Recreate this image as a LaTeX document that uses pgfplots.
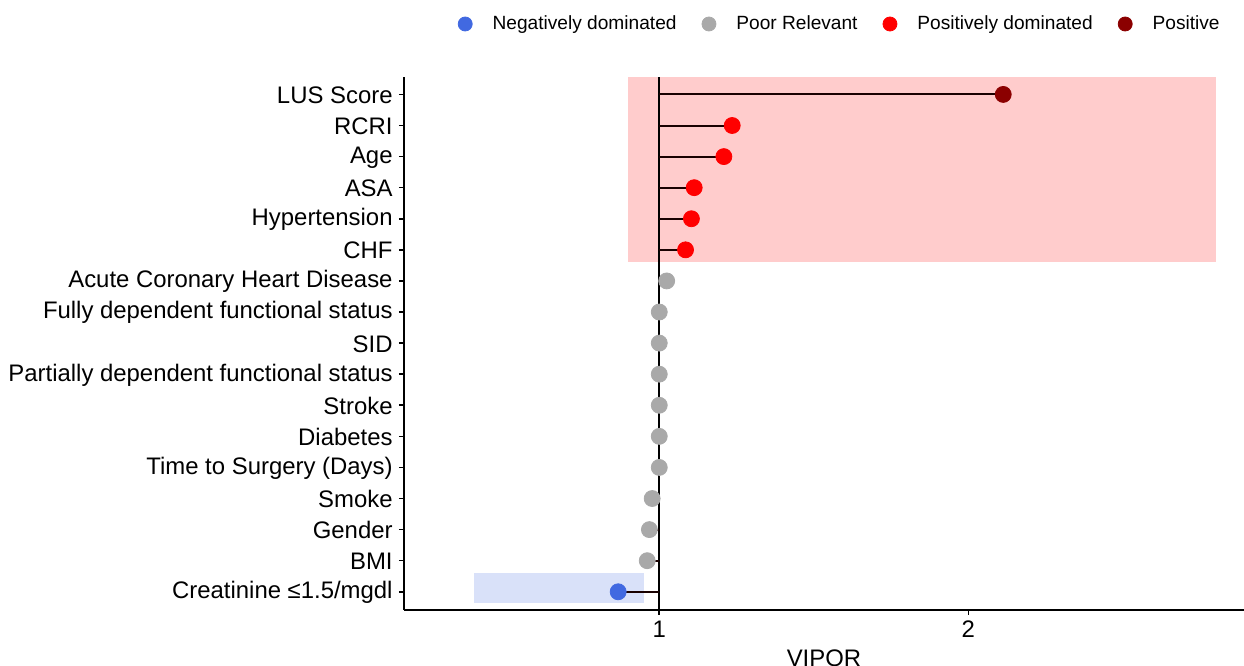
\documentclass[border=0pt]{standalone}
\usepackage{fontspec}
\setmainfont{Liberation Sans}
\usepackage{pgfplots}
\pgfplotsset{compat=1.18}
\definecolor{negc}{HTML}{4169E1}
\definecolor{poorc}{HTML}{A9A9A9}
\definecolor{posdc}{HTML}{FF0000}
\definecolor{posc}{HTML}{8B0000}
\definecolor{redbox}{HTML}{FFCCCC}
\definecolor{bluebox}{HTML}{D9E1F9}
\begin{document}
\begin{tikzpicture}
\useasboundingbox (-202bp,-28.25bp) rectangle (420bp,304.75bp);
\begin{axis}[
  at={(0,0)}, anchor=south west,
  scale only axis, width=420bp, height=266.4bp,
  xmin=0.174, xmax=2.892, ymin=0.43, ymax=17.57,
  axis lines*=left,
  axis line style={line width=1bp, black},
  xtick={1,2}, ytick={1,...,17},
  xtick pos=bottom, ytick pos=left,
  tick align=outside, major tick length=2.5bp,
  tick style={line width=0.8bp, black},
  yticklabels={Creatinine ≤1.5/mgdl, BMI, Gender, Smoke, Time to Surgery (Days), Diabetes, Stroke, Partially dependent functional status, SID, Fully dependent functional status, Acute Coronary Heart Disease, CHF, Hypertension, ASA, Age, RCRI, LUS Score},
  /pgf/number format/assume math mode=true,
  tick label style={font=\fontsize{12}{14}\selectfont, black},
  yticklabel style={inner sep=0pt, anchor=east, xshift=-3bp, yshift=-0.4bp},
  xticklabel style={inner sep=0pt, anchor=north, yshift=-3bp},
  xlabel={VIPOR},
  xlabel style={font=\fontsize{12}{14}\selectfont, inner sep=0pt, anchor=north, at={(axis description cs:0.5,0)}, yshift=-19.8bp},
  legend columns=4,
  legend style={at={(1,1)}, anchor=east, xshift=-12bp, yshift=26.35bp, draw=none, fill=none,
    inner sep=0pt, column sep=0pt, font=\fontsize{9.6}{11}\selectfont,
    nodes={inner sep=0pt},
    /tikz/every even column/.append style={column sep=12.5bp}},
  legend image code/.code={\path (-3.5bp,0) (13.5bp,0); \fill[#1] (0,0) circle (3.5bp);},
  clip=false,
]
% shaded regions
\addplot[fill=redbox, draw=none, forget plot] coordinates {(0.899,11.60) (2.80,11.60) (2.80,17.57) (0.899,17.57)} -- cycle;
\addplot[fill=bluebox, draw=none, forget plot] coordinates {(0.40,0.636) (0.95,0.636) (0.95,1.60) (0.40,1.60)} -- cycle;
% vertical reference line
\addplot[black, line width=1bp, forget plot] coordinates {(1,0.43) (1,17.57)};
% points
\addplot[only marks, mark=*, mark size=4bp, color=negc, fill=negc] coordinates {(0.867,1)};
\addlegendentry{Negatively dominated}
\addplot[only marks, mark=*, mark size=4bp, color=poorc, fill=poorc] coordinates {
(0.961,2) (0.968,3) (0.977,4) (1.0,5) (1.0,6) (1.0,7) (1.0,8) (1.0,9) (1.0,10) (1.024,11)};
\addlegendentry{Poor Relevant}
\addplot[only marks, mark=*, mark size=4bp, color=posdc, fill=posdc] coordinates {
(1.085,12) (1.104,13) (1.113,14) (1.209,15) (1.236,16)};
\addlegendentry{Positively dominated}
\addplot[only marks, mark=*, mark size=4bp, color=posc, fill=posc] coordinates {(2.113,17)};
\addlegendentry{Positive}
% segments
\addplot[black!90!red, line width=1bp, unbounded coords=jump, forget plot] coordinates {
(1,17) (2.113,17) (nan,nan)
(1,16) (1.236,16) (nan,nan)
(1,15) (1.209,15) (nan,nan)
(1,14) (1.113,14) (nan,nan)
(1,13) (1.104,13) (nan,nan)
(1,12) (1.085,12) (nan,nan)
(1,11) (1.024,11) (nan,nan)
(1,4) (0.977,4) (nan,nan)
(1,3) (0.968,3) (nan,nan)
(1,2) (0.961,2) (nan,nan)
(1,1) (0.867,1)};
\end{axis}
\end{tikzpicture}
\end{document}
